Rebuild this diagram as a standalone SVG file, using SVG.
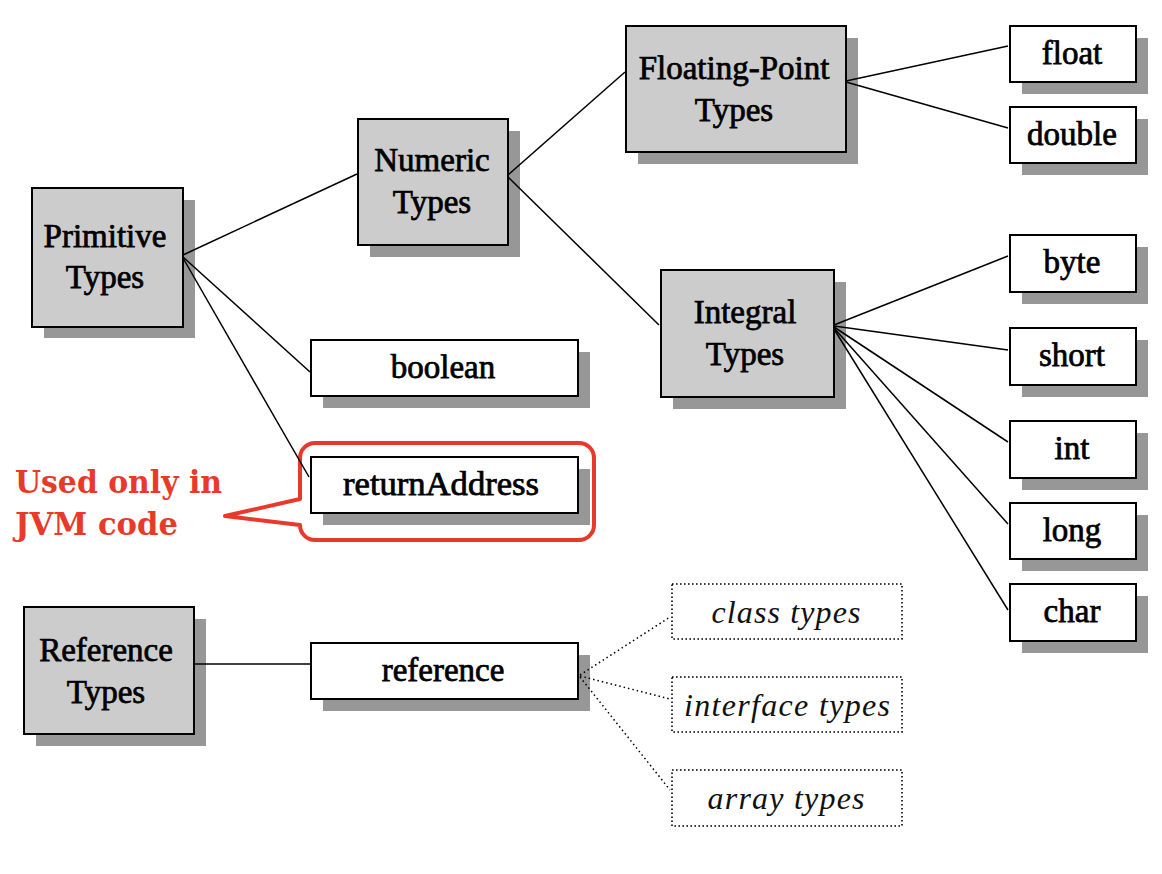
<svg xmlns="http://www.w3.org/2000/svg" width="1162" height="874" viewBox="0 0 1162 874">
<style>
.sh{fill:#979797}
.g{fill:#cccccc;stroke:#000;stroke-width:2}
.w{fill:#fff;stroke:#000;stroke-width:2}
.d{fill:#fff;stroke:#000;stroke-width:1.6;stroke-dasharray:1.6 2.4}
.t{font-family:'Liberation Serif','DejaVu Serif',serif;font-size:33px;fill:#000;stroke:#000;stroke-width:0.75;text-anchor:middle}
.i{font-family:'Liberation Serif','DejaVu Serif',serif;font-size:32px;font-style:italic;fill:#111;text-anchor:middle}
.c line{stroke:#000;stroke-width:1.5}
.c .dl{stroke-dasharray:1.5 3}
.r{font-family:'DejaVu Serif',serif;font-weight:bold;font-size:31px;fill:#e83a2a}
</style>
<rect width="1162" height="874" fill="#fff"/>
<g id="primitive">
<rect class="sh" x="44" y="200" width="151" height="138"/>
<rect class="g" x="32" y="188" width="151" height="139"/>
<text class="t" x="105" y="247">Primitive</text>
<text class="t" x="105" y="288">Types</text>
</g>
<g id="numeric">
<rect class="sh" x="370" y="131" width="150" height="126"/>
<rect class="g" x="358" y="119" width="150" height="126"/>
<text class="t" x="432" y="171">Numeric</text>
<text class="t" x="432" y="213">Types</text>
</g>
<g id="floating">
<rect class="sh" x="638" y="38" width="220" height="126"/>
<rect class="g" x="626" y="26" width="220" height="126"/>
<text class="t" x="734" y="79">Floating-Point</text>
<text class="t" x="734" y="121">Types</text>
</g>
<g id="integral">
<rect class="sh" x="673" y="282" width="173" height="127"/>
<rect class="g" x="661" y="270" width="173" height="127"/>
<text class="t" x="745" y="323">Integral</text>
<text class="t" x="745" y="365">Types</text>
</g>
<g id="float">
<rect class="sh" x="1022" y="38" width="126" height="56"/>
<rect class="w" x="1010" y="26" width="126" height="56"/>
<text class="t" x="1072" y="64">float</text>
</g>
<g id="double">
<rect class="sh" x="1022" y="119" width="126" height="56"/>
<rect class="w" x="1010" y="107" width="126" height="56"/>
<text class="t" x="1072" y="145">double</text>
</g>
<g id="byte">
<rect class="sh" x="1022" y="247" width="126" height="57"/>
<rect class="w" x="1010" y="235" width="126" height="57"/>
<text class="t" x="1072" y="273">byte</text>
</g>
<g id="short">
<rect class="sh" x="1022" y="340" width="126" height="57"/>
<rect class="w" x="1010" y="328" width="126" height="57"/>
<text class="t" x="1072" y="366">short</text>
</g>
<g id="int">
<rect class="sh" x="1022" y="433" width="126" height="57"/>
<rect class="w" x="1010" y="421" width="126" height="57"/>
<text class="t" x="1072" y="459">int</text>
</g>
<g id="long">
<rect class="sh" x="1022" y="515" width="126" height="56"/>
<rect class="w" x="1010" y="503" width="126" height="56"/>
<text class="t" x="1072" y="541">long</text>
</g>
<g id="char">
<rect class="sh" x="1022" y="596" width="126" height="57"/>
<rect class="w" x="1010" y="584" width="126" height="57"/>
<text class="t" x="1072" y="622">char</text>
</g>
<g id="boolean">
<rect class="sh" x="323" y="352" width="267" height="56"/>
<rect class="w" x="311" y="340" width="267" height="56"/>
<text class="t" x="443" y="378">boolean</text>
</g>
<g id="returnAddress">
<rect class="sh" x="323" y="469" width="267" height="56"/>
<rect class="w" x="311" y="457" width="267" height="56"/>
<text class="t" x="441" y="495" textLength="196" lengthAdjust="spacingAndGlyphs">returnAddress</text>
</g>
<g id="callout">
<path d="M315,443 H579 A15,15 0 0 1 594,458 V525 A15,15 0 0 1 579,540 H315 A15,15 0 0 1 300,525 L225,516 L300,499 V458 A15,15 0 0 1 315,443 Z" fill="none" stroke="#e83a2a" stroke-width="4" stroke-linejoin="round"/>
<text class="r" x="15" y="493" textLength="207" lengthAdjust="spacingAndGlyphs">Used only in</text>
<text class="r" x="15" y="535" textLength="163" lengthAdjust="spacingAndGlyphs">JVM code</text>
</g>
<g id="referenceTypes">
<rect class="sh" x="36" y="619" width="170" height="127"/>
<rect class="g" x="24" y="607" width="170" height="127"/>
<text class="t" x="106" y="661">Reference</text>
<text class="t" x="106" y="703">Types</text>
</g>
<g id="reference">
<rect class="sh" x="323" y="655" width="267" height="56"/>
<rect class="w" x="311" y="643" width="267" height="56"/>
<text class="t" x="443" y="681">reference</text>
</g>
<g id="classTypes">
<rect class="d" x="672" y="584" width="230" height="55"/>
<text class="i" x="786" y="623" textLength="149" lengthAdjust="spacing">class types</text>
</g>
<g id="interfaceTypes">
<rect class="d" x="672" y="677" width="230" height="55"/>
<text class="i" x="787" y="716" textLength="206" lengthAdjust="spacing">interface types</text>
</g>
<g id="arrayTypes">
<rect class="d" x="672" y="770" width="230" height="56"/>
<text class="i" x="786" y="809" textLength="157" lengthAdjust="spacing">array types</text>
</g>
<g class="c" id="connectors">
<line x1="183" y1="255" x2="357" y2="174"/>
<line x1="183" y1="257" x2="310" y2="372"/>
<line x1="183" y1="258" x2="309" y2="477"/>
<line x1="508" y1="175" x2="625" y2="72"/>
<line x1="508" y1="177" x2="659" y2="325"/>
<line x1="846" y1="81" x2="1008" y2="46"/>
<line x1="846" y1="82" x2="1008" y2="128"/>
<line x1="834" y1="325" x2="1008" y2="256"/>
<line x1="834" y1="326" x2="1008" y2="350"/>
<line x1="834" y1="327" x2="1008" y2="442"/>
<line x1="834" y1="328" x2="1008" y2="524"/>
<line x1="834" y1="329" x2="1008" y2="610"/>
<line x1="194" y1="664" x2="310" y2="664"/>
<line class="dl" x1="580" y1="675" x2="670" y2="617"/>
<line class="dl" x1="580" y1="676" x2="670" y2="699"/>
<line class="dl" x1="580" y1="677" x2="670" y2="790"/>
</g>
</svg>
